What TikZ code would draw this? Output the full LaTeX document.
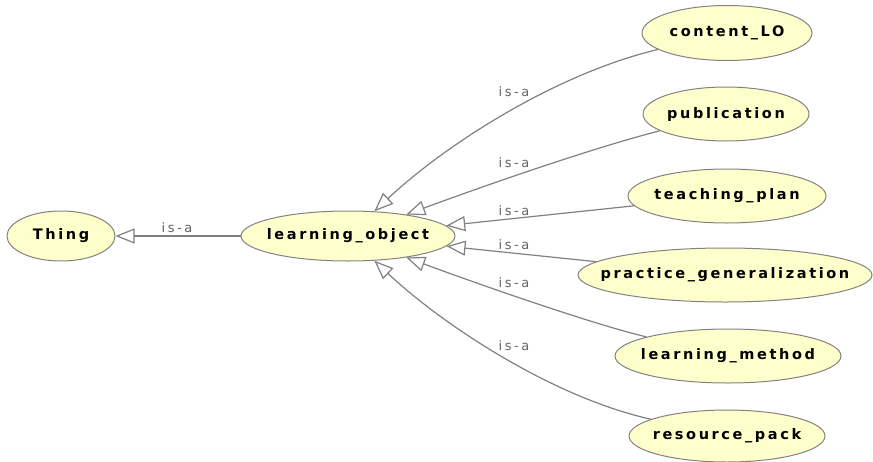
\documentclass[tikz,border=0pt]{standalone}
\usepackage{fontspec}
\usetikzlibrary{shapes.geometric,arrows.meta}
\newfontfamily\nodefont{DejaVu Sans}[LetterSpace=18]
\newfontfamily\labfont{DejaVu Sans}[LetterSpace=20]
\definecolor{nodefill}{RGB}{255,255,204}
\definecolor{nodeline}{RGB}{130,130,130}
\definecolor{edgegray}{RGB}{128,128,128}
\definecolor{labgray}{RGB}{100,100,100}
\tikzset{
  cls/.style={ellipse, draw=nodeline, line width=1pt, fill=nodefill,
    inner xsep=-120pt, inner ysep=-30pt,
    font=\nodefont\bfseries\fontsize{14.5}{16}\selectfont, text=black},
  isa/.style={draw=edgegray, line width=1.2pt,
    -{Triangle[open, length=19pt, width=15pt, line width=1.2pt]}},
  lab/.style={font=\labfont\fontsize{13}{15}\selectfont, text=labgray, inner sep=0pt}
}
\begin{document}
\begin{tikzpicture}[x=1pt,y=-1pt]
\useasboundingbox (0,0) rectangle (873,461);
\node[cls, minimum width=108pt, minimum height=50pt] (thing) at (61,236) {Thing};
\node[cls, minimum width=214pt, minimum height=50pt] (lo) at (348,236) {learning\_object};
\node[cls, minimum width=170pt, minimum height=55pt] (c1) at (727,33) {content\_LO};
\node[cls, minimum width=166pt, minimum height=54pt] (c2) at (726,114) {publication};
\node[cls, minimum width=198pt, minimum height=54pt] (c3) at (727,196) {teaching\_plan};
\node[cls, minimum width=294pt, minimum height=54pt] (c4) at (725,275) {practice\_generalization};
\node[cls, minimum width=226pt, minimum height=54pt] (c5) at (728,356) {learning\_method};
\node[cls, minimum width=196pt, minimum height=52pt] (c6) at (727,436) {resource\_pack};

\draw[isa] (lo) -- (thing);
\draw[isa] (c1) .. controls (555,74) and (445,145) .. (lo);
\draw[isa] (c2) .. controls (600,146) and (500,180) .. (lo);
\draw[isa] (c3) -- (lo);
\draw[isa] (c4) -- (lo);
\draw[isa] (c5) .. controls (600,326) and (500,292) .. (lo);
\draw[isa] (c6) .. controls (555,398) and (445,327) .. (lo);

\node[lab] (l0) at (177,228) {is-a};
\node[lab] (l1) at (514,92) {is-a};
\node[lab] (l2) at (514,163) {is-a};
\node[lab] (l3) at (514,211) {is-a};
\node[lab] (l4) at (514,245) {is-a};
\node[lab] (l5) at (514,283) {is-a};
\node[lab] (l6) at (514,346) {is-a};
\end{tikzpicture}
\end{document}
